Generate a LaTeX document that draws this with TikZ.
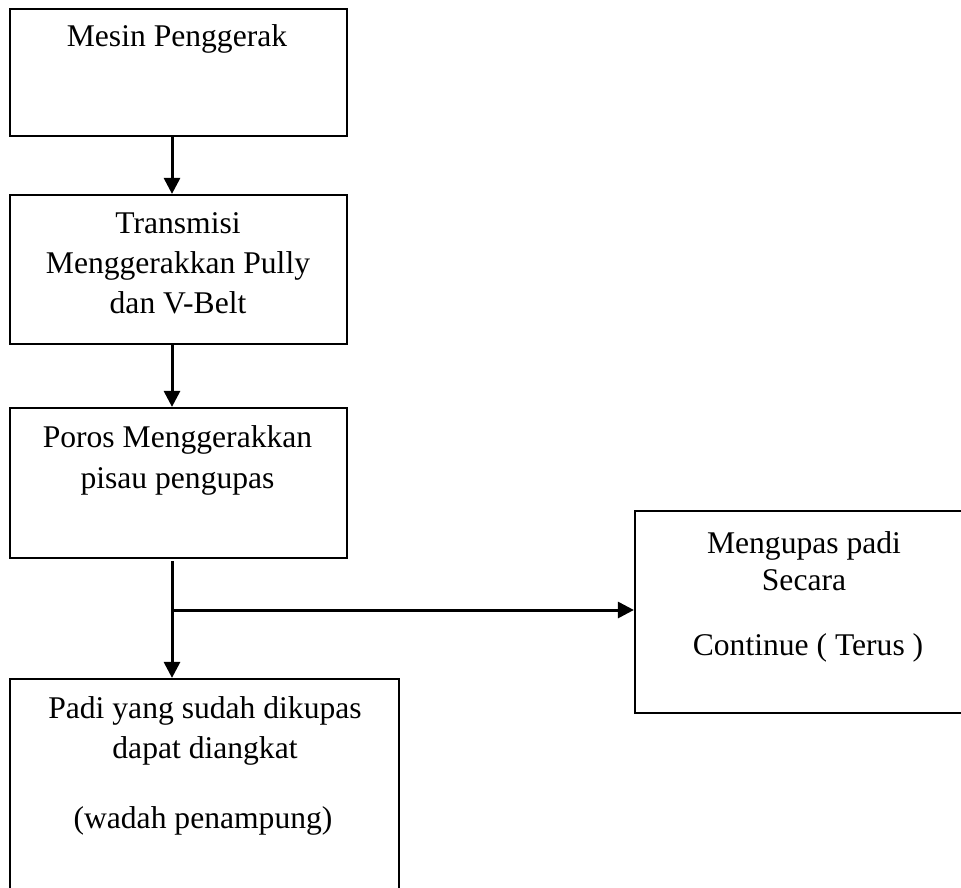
\documentclass[tikz,border=0pt]{standalone}
\usepackage{fontspec}
\setmainfont{Liberation Serif}
\usetikzlibrary{arrows.meta}
\begin{document}
\begin{tikzpicture}[x=1pt,y=-1pt,
  box/.style={draw=black,line width=2.2pt,rectangle,inner sep=0pt},
  lbl/.style={anchor=base,inner sep=0pt,font=\fontsize{31.6}{36}\selectfont},
  arr/.style={line width=3pt,-{Triangle[length=16pt,width=16pt]}}]
\useasboundingbox (0,0) rectangle (961,888);
\begin{scope}
\clip (0,0) rectangle (961,888);
\node[box,minimum width=337pt,minimum height=127pt] (b1) at (178.5,72.5) {};
\node[box,minimum width=337pt,minimum height=149pt] (b2) at (178.5,269.5) {};
\node[box,minimum width=337pt,minimum height=150pt] (b3) at (178.5,483) {};
\node[box,minimum width=389pt,minimum height=240pt] (b4) at (204.5,799) {};
\node[box,minimum width=340pt,minimum height=202pt] (b5) at (805,612) {};
\end{scope}
\node[lbl] (t1) at (177,47) {Mesin Penggerak};
\node[lbl] (t2a) at (178,233) {Transmisi};
\node[lbl] (t2b) at (178,273) {Menggerakkan Pully};
\node[lbl] (t2c) at (178,313) {dan V-Belt};
\node[lbl] (t3a) at (177.5,447) {Poros Menggerakkan};
\node[lbl] (t3b) at (177.5,488) {pisau pengupas};
\node[lbl] (t4a) at (205,718) {Padi yang sudah dikupas};
\node[lbl] (t4b) at (205,758) {dapat diangkat};
\node[lbl] (t4c) at (203,828) {(wadah penampung)};
\node[lbl] (t5a) at (804,553) {Mengupas padi};
\node[lbl] (t5b) at (804,590) {Secara};
\node[lbl] (t5c) at (808,655) {Continue ( Terus )};
\coordinate (ax) at (172,0);
\coordinate (s3) at (172,561);
\coordinate (j) at (172,610);
\draw[arr] (b1.south -| ax) -- (b2.north -| ax);
\draw[arr] (b2.south -| ax) -- (b3.north -| ax);
\draw[arr] (s3) -- (b4.north -| ax);
\draw[arr] (j) -- (j -| b5.west);
\end{tikzpicture}
\end{document}
